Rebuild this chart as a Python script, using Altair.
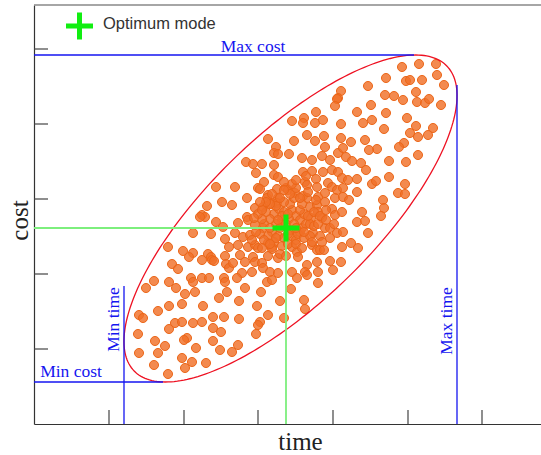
import math
import numpy as np
import pandas as pd
import altair as alt

# ---- scatter samples (time, cost) ----
time_vals = [
    307,304,303,301,282,270,269,258,281,289,307,234,260,273,281,290,307,242,240,244,255,268,278,288,291,304,296,309,212,219,228,
    368,385,402,352,372,376,388,403,410,334,382,351,360,369,383,391,395,407,337,323,352,373,338,329,382,399,350,376,394,384,317,331,370,365,343,335,384,355,372,312,318,327,
    182,201,188,198,173,168,171,166,182,189,159,177,201,191,149,159,134,195,174,177,178,180,155,168,191,138,144,192,195,199,
    240,222,240,244,269,278,282,289,298,304,308,230,224,226,243,252,254,271,273,261,283,294,298,303,309,213,234,233,244,269,273,284,291,301,309,221,229,238,243,276,283,291,298,301,308,284,288,277,266,279,291,303,309,213,214,204,209,216,221,229,204,214,221,224,234,238,258,263,278,283,286,290,308,206,211,219,221,228,229,244,264,273,271,283,296,307,208,218,236,244,258,284,299,
    240,245,250,258,262,266,255,248,242,236,232,238,244,250,258,262,268,272,264,256,246,240,234,230,252,260,254,248,270,276,266,242,256,250,236,228,226,238,248,254,262,270,276,280,274,268,260,230,222,224,246,252,234,280,284,286,232,262,258,250,
    244,254,262,270,236,228,246,256,266,274,282,286,292,296,288,278,268,242,236,228,218,220,226,238,250,262,272,292,300,296,
    332,314,323,338,342,355,371,364,371,323,315,349,350,347,328,323,331,334,317,324,
    112,120,135,142,151,157,159,168,175,161,190,191,193,185,124,135,148,169,105,109,141,148,159,168,179,190,135,179,187,104,153,150,121,131,162,179,105,124,148,158,172,186,198,120,151,134,
    203,211,233,238,263,273,284,257,227,205,223,246,270,271,234,250,205,226,224,222,204,
]
cost_vals = [
    333,326,325,318,312,306,301,303,301,304,300,285,283,289,283,288,286,277,271,270,270,266,264,268,277,271,264,276,262,260,260,
    357,360,360,346,343,344,344,349,339,338,332,329,328,324,322,321,325,319,319,312,311,306,304,301,298,296,295,291,289,287,282,284,281,277,275,274,269,263,262,267,263,261,
    237,237,222,219,218,209,207,207,202,197,191,190,191,185,173,171,177,177,170,167,164,163,167,164,168,160,155,160,156,161,
    259,251,249,247,252,253,245,252,254,252,246,242,236,235,235,236,234,242,239,231,237,241,237,234,236,226,229,226,226,228,226,227,231,226,227,216,217,220,221,217,219,222,215,209,212,212,206,206,192,191,196,191,192,207,204,201,187,189,199,196,179,177,179,176,181,177,177,172,179,174,174,174,177,169,162,167,162,161,156,166,167,159,152,162,163,162,151,152,152,151,152,152,154,
    210,215,212,214,208,204,205,204,200,205,212,192,188,186,188,184,196,200,190,194,196,182,188,200,200,200,190,208,210,200,214,218,220,222,220,205,190,175,178,180,180,186,188,198,208,220,226,184,192,210,170,168,168,212,200,188,222,236,240,242,
    204,210,196,192,196,214,226,230,226,232,224,208,204,196,182,182,176,186,180,176,184,206,222,230,234,244,248,214,200,186,
    254,244,245,240,243,247,240,231,230,232,224,224,216,208,212,202,203,191,181,176,
    136,143,142,136,130,146,142,146,146,132,146,142,132,126,113,118,120,118,109,106,101,102,101,102,107,107,95,96,92,90,86,84,83,78,76,83,71,71,66,62,61,74,72,59,56,50,
    146,136,142,144,146,149,141,135,132,123,118,123,124,115,109,106,105,102,99,90,79,
]

# optimum mode
opt_time = [252]
opt_cost = [196]

# confidence ellipse parameters (centre, semi-axes, tilt in degrees)
ell_cx, ell_cy, ell_a, ell_b, ell_deg = 256.5, 205.5, 218.4, 82.3, 44.3

# bound lines
min_cost, max_cost = 42, 369
min_time, max_time = 90, 423
min_cost_end, max_cost_end = 129, 380
min_time_top, max_time_top = 138, 339

# axis tick positions (unlabelled)
x_ticks = [75, 150, 224, 299, 374, 448]
y_ticks = [75, 150, 225, 300, 375]

W, H = 507, 419
XD, YD = [0, W], [0, H]

scat = pd.DataFrame({"time": time_vals, "cost": cost_vals})
xs = alt.Scale(domain=XD, nice=False, zero=False)
ys = alt.Scale(domain=YD, nice=False, zero=False)

BLUE = "#1515f0"
SERIF = "Liberation Serif"

t = np.linspace(0, 2 * math.pi, 241)
th = math.radians(ell_deg)
ell = pd.DataFrame({
    "i": np.arange(len(t)),
    "time": ell_cx + ell_a * np.cos(t) * math.cos(th) - ell_b * np.sin(t) * math.sin(th),
    "cost": ell_cy + ell_a * np.cos(t) * math.sin(th) + ell_b * np.sin(t) * math.cos(th),
})

points = alt.Chart(scat).mark_circle(
    size=82, color="#f07028", fillOpacity=0.82, stroke="#ec6618", strokeWidth=1, opacity=1
).encode(
    x=alt.X("time:Q", scale=xs, axis=alt.Axis(
        title="time", labels=False, ticks=False, grid=False, domainColor="#333", domainWidth=1.2,
        titleFont=SERIF, titleFontSize=25, titleFontWeight="normal", titleColor="#222",
        titleX=266, titleY=25, titleBaseline="alphabetic")),
    y=alt.Y("cost:Q", scale=ys, axis=alt.Axis(
        title="cost", labels=False, ticks=False, grid=False, domainColor="#333", domainWidth=1.2,
        titleFont=SERIF, titleFontSize=25, titleFontWeight="normal", titleColor="#222",
        titleAngle=270, titleX=-7, titleY=215, titleBaseline="alphabetic", titleAlign="center")),
)

ellipse = alt.Chart(ell).mark_line(color="#ee1122", strokeWidth=1.3).encode(
    x=alt.X("time:Q", scale=xs), y=alt.Y("cost:Q", scale=ys), order="i:Q"
)

hlines = pd.DataFrame({"y": [max_cost, min_cost], "x0": [0, 0], "x1": [max_cost_end, min_cost_end]})
vlines = pd.DataFrame({"x": [min_time, max_time], "y0": [0, 0], "y1": [min_time_top, max_time_top]})
hl = alt.Chart(hlines).mark_rule(color=BLUE, strokeWidth=1.3).encode(
    x=alt.X("x0:Q", scale=xs), x2="x1:Q", y=alt.Y("y:Q", scale=ys))
vl = alt.Chart(vlines).mark_rule(color=BLUE, strokeWidth=1.3).encode(
    y=alt.Y("y0:Q", scale=ys), y2="y1:Q", x=alt.X("x:Q", scale=xs))

opt = pd.DataFrame({"time": opt_time, "cost": opt_cost, "zero": [0]})
gh = alt.Chart(opt).mark_rule(color="#7def7d", strokeWidth=1.8).encode(
    x=alt.X("zero:Q", scale=xs), x2="time:Q", y=alt.Y("cost:Q", scale=ys))
gv = alt.Chart(opt).mark_rule(color="#7def7d", strokeWidth=1.8).encode(
    y=alt.Y("zero:Q", scale=ys), y2="cost:Q", x=alt.X("time:Q", scale=xs))

PLUS = "M-1,0L1,0M0,-1L0,1"
plus = alt.Chart(opt).mark_point(
    shape=PLUS, filled=False, size=729, strokeWidth=5, color="#11ee11", opacity=1, strokeCap="butt"
).encode(x=alt.X("time:Q", scale=xs), y=alt.Y("cost:Q", scale=ys))

hlab = pd.DataFrame({"label": ["Max cost", "Min cost"], "x": [219, 37], "y": [372, 47]})
htext = alt.Chart(hlab).mark_text(
    font=SERIF, fontSize=17.5, color=BLUE, baseline="alphabetic", align="center"
).encode(x=alt.X("x:Q", scale=xs), y=alt.Y("y:Q", scale=ys), text="label:N")

vlab = pd.DataFrame({"label": ["Min time", "Max time"], "x": [85, 418], "y": [104.5, 103]})
vtext = alt.Chart(vlab).mark_text(
    font=SERIF, fontSize=17.5, color=BLUE, baseline="alphabetic", align="center", angle=270
).encode(x=alt.X("x:Q", scale=xs), y=alt.Y("y:Q", scale=ys), text="label:N")

xt = alt.Chart(pd.DataFrame({"t": x_ticks})).mark_rule(color="#444", strokeWidth=1.2).encode(
    x=alt.X("t:Q", scale=xs), y=alt.value(H), y2=alt.value(H - 14))
yt = alt.Chart(pd.DataFrame({"t": y_ticks})).mark_rule(color="#444", strokeWidth=1.2).encode(
    y=alt.Y("t:Q", scale=ys), x=alt.value(0), x2=alt.value(14))

top = alt.Chart(pd.DataFrame({"a": [0]})).mark_rule(color="#888", strokeWidth=1.5).encode(
    x=alt.value(0), x2=alt.value(W), y=alt.value(0))

leg_sym = alt.Chart(pd.DataFrame({"a": [0]})).mark_point(
    shape=PLUS, filled=False, size=729, strokeWidth=5, color="#11ee11", opacity=1, strokeCap="butt"
).encode(x=alt.value(45.5), y=alt.value(21))
leg_txt = alt.Chart(pd.DataFrame({"label": ["Optimum mode"]})).mark_text(
    font="Liberation Sans", fontSize=16.5, color="#333", align="left", baseline="middle"
).encode(x=alt.value(69), y=alt.value(19), text="label:N")

chart = alt.layer(
    points, ellipse, hl, vl, gh, gv, plus, htext, vtext, xt, yt, top, leg_sym, leg_txt
).properties(
    width=W, height=H, autosize=alt.AutoSizeParams(type="none"),
    padding={"left": 34, "top": 5, "right": 0, "bottom": 31},
).configure_view(stroke=None)

chart.save("out.html", embed_options={"renderer": "svg", "actions": False})
